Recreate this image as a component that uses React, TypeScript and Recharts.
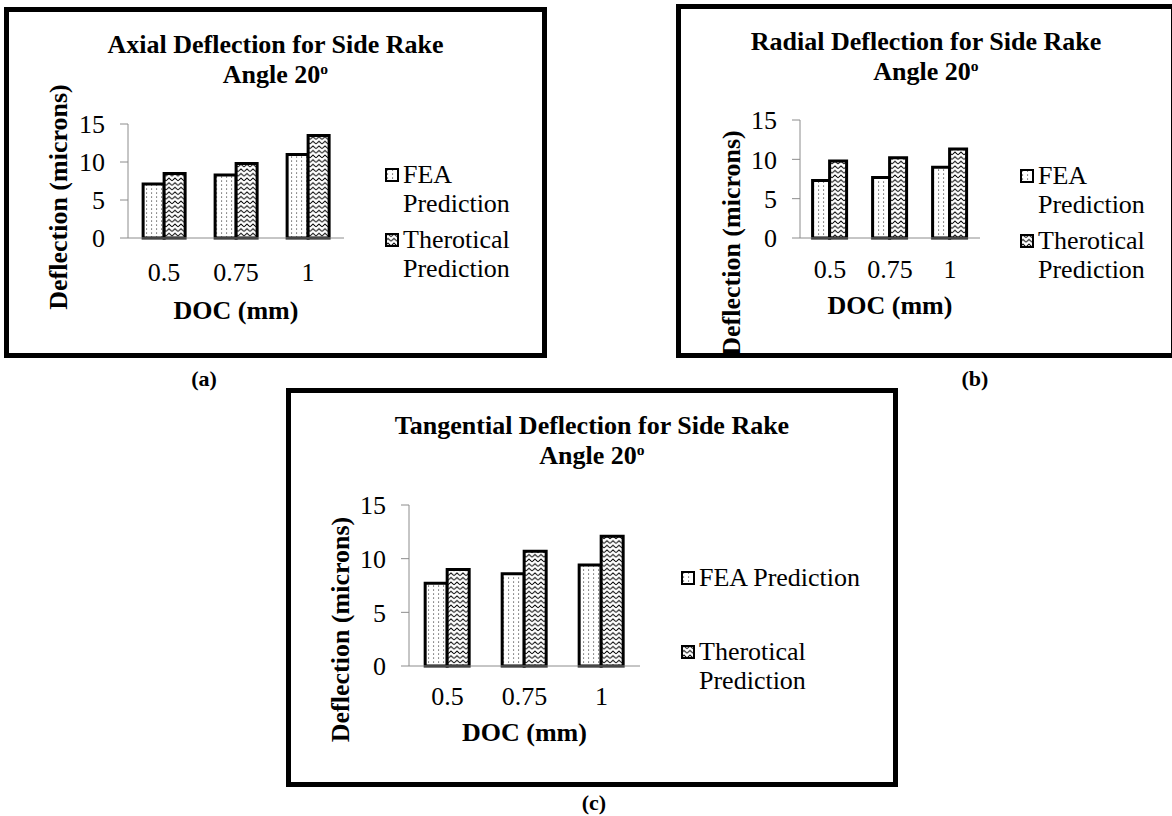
import React from 'react';
import { BarChart, Bar, XAxis, YAxis, Legend } from 'recharts';

// DOC categories shared by the three panels
const docLabels = ['0.5', '0.75', '1'];
const yTicks = [0, 5, 10, 15];

// deflection values (microns)
const axialFea = [7.1, 8.3, 11.0];
const axialTheo = [8.5, 9.8, 13.5];
const radialFea = [7.3, 7.7, 9.0];
const radialTheo = [9.8, 10.2, 11.3];
const tangentialFea = [7.7, 8.6, 9.4];
const tangentialTheo = [9.0, 10.7, 12.1];

const FONT = '"Liberation Serif", "Times New Roman", serif';
const AXIS_GREY = '#8c8c8c';

function PatternLegend({ payload, gap }: any) {
  return (
    <div style={{ fontFamily: FONT, fontSize: 26, lineHeight: '29px', color: '#000' }}>
      {(payload || []).map((entry: any, i: number) => (
        <div key={i} style={{ display: 'flex', alignItems: 'flex-start', marginTop: i ? gap : 0 }}>
          <svg width={14} height={14} style={{ flex: 'none', marginTop: 8, marginRight: 4 }}>
            <rect x={1} y={1} width={12} height={12} fill={entry.color || entry.payload?.fill} stroke="#000" strokeWidth={2} />
          </svg>
          <span>{entry.value}</span>
        </div>
      ))}
    </div>
  );
}

interface PanelProps {
  id: string;
  title: string;
  fea: number[];
  theo: number[];
  frame: { left: number; top: number; width: number; height: number };
  margin: { top: number; right: number; bottom: number; left: number };
  yAxisWidth: number;
  yLabelDx: number;
  yLabelDy: number;
  xAxisHeight: number;
  xTickMargin: number;
  legend: { left: number; top: number; width: number; gap: number };
}

function Panel(p: PanelProps) {
  const data = docLabels.map((doc, i) => ({ doc, fea: p.fea[i], theo: p.theo[i] }));
  const tickStyle = { fill: '#000', fontSize: 26, fontFamily: FONT };
  const labelStyle = { fill: '#000', fontSize: 26, fontFamily: FONT, fontWeight: 'bold' };

  return (
    <div style={{ position: 'absolute', left: p.frame.left, top: p.frame.top, width: p.frame.width, height: p.frame.height, overflow: 'hidden', background: '#fff' }}>
      <div style={{ position: 'absolute', left: 0, top: 23, width: '100%', textAlign: 'center', fontFamily: FONT, fontWeight: 'bold', fontSize: 26, lineHeight: '30px', color: '#000' }}>
        {p.title}
        <br />
        Angle 20<sup style={{ fontSize: '60%', verticalAlign: 'top', lineHeight: '18px' }}>o</sup>
      </div>
      <BarChart width={p.frame.width} height={p.frame.height} data={data} margin={p.margin} barCategoryGap="21%" barGap={0}>
        <defs>
          <pattern id={`dots-${p.id}`} width={5} height={4} patternUnits="userSpaceOnUse">
            <rect width={5} height={4} fill="#fff" />
            <rect x={2} y={1.5} width={1.1} height={1.1} fill="#444" />
          </pattern>
          <pattern id={`zig-${p.id}`} width={6} height={4.6} patternUnits="userSpaceOnUse">
            <rect width={6} height={4.6} fill="#fff" />
            <path d="M0,3.6 L3,1 L6,3.6" fill="none" stroke="#000" strokeWidth={1} />
          </pattern>
        </defs>
        <XAxis
          dataKey="doc"
          height={p.xAxisHeight}
          tickLine={false}
          tickSize={0}
          tickMargin={p.xTickMargin}
          axisLine={{ stroke: AXIS_GREY }}
          tick={tickStyle}
          interval={0}
          label={{ value: 'DOC (mm)', position: 'insideBottom', offset: 0, ...labelStyle }}
        />
        <YAxis
          domain={[0, 15]}
          ticks={yTicks}
          width={p.yAxisWidth}
          tickSize={8}
          tickMargin={15}
          axisLine={{ stroke: AXIS_GREY }}
          tickLine={{ stroke: AXIS_GREY }}
          tick={tickStyle}
          label={{ value: 'Deflection (microns)', angle: -90, position: 'center', dx: p.yLabelDx, dy: p.yLabelDy, ...labelStyle }}
        />
        <Legend
          layout="vertical"
          align="center"
          verticalAlign="middle"
          wrapperStyle={{ left: p.legend.left, top: p.legend.top, width: p.legend.width }}
          content={(props: any) => <PatternLegend {...props} gap={p.legend.gap} />}
        />
        <Bar dataKey="fea" name="FEA Prediction" fill={`url(#dots-${p.id})`} stroke="#000" strokeWidth={3} isAnimationActive={false} />
        <Bar dataKey="theo" name="Therotical Prediction" fill={`url(#zig-${p.id})`} stroke="#000" strokeWidth={3} isAnimationActive={false} />
      </BarChart>
      <div style={{ position: 'absolute', inset: 0, border: '5px solid #000', boxSizing: 'border-box', pointerEvents: 'none' }} />
    </div>
  );
}

const captionStyle: React.CSSProperties = {
  position: 'absolute',
  width: 60,
  textAlign: 'center',
  fontFamily: FONT,
  fontWeight: 'bold',
  fontSize: 22,
  lineHeight: '26px',
  color: '#000',
};

export default function App() {
  return (
    <div style={{ position: 'absolute', left: 0, top: 0, width: 1172, height: 816, overflow: 'hidden', background: '#fff' }}>
      <Panel
        id="a"
        title="Axial Deflection for Side Rake"
        fea={axialFea}
        theo={axialTheo}
        frame={{ left: 4, top: 7, width: 543, height: 351 }}
        margin={{ top: 117, right: 203, bottom: 39, left: 0 }}
        yAxisWidth={124}
        yLabelDx={-8}
        yLabelDy={16}
        xAxisHeight={81}
        xTickMargin={25}
        legend={{ left: 381, top: 153, width: 125, gap: 7 }}
      />
      <Panel
        id="b"
        title="Radial Deflection for Side Rake"
        fea={radialFea}
        theo={radialTheo}
        frame={{ left: 676, top: 4, width: 500, height: 354 }}
        margin={{ top: 116, right: 196, bottom: 44, left: 0 }}
        yAxisWidth={124}
        yLabelDx={-7}
        yLabelDy={64}
        xAxisHeight={76}
        xTickMargin={22}
        legend={{ left: 344, top: 157, width: 125, gap: 7 }}
      />
      <Panel
        id="c"
        title="Tangential Deflection for Side Rake"
        fea={tangentialFea}
        theo={tangentialTheo}
        frame={{ left: 286, top: 388, width: 612, height: 399 }}
        margin={{ top: 117, right: 258, bottom: 46, left: 0 }}
        yAxisWidth={123}
        yLabelDx={-8}
        yLabelDy={44}
        xAxisHeight={75}
        xTickMargin={21}
        legend={{ left: 395, top: 175, width: 200, gap: 45 }}
      />
      <div style={{ ...captionStyle, left: 174, top: 366 }}>(a)</div>
      <div style={{ ...captionStyle, left: 945, top: 366 }}>(b)</div>
      <div style={{ ...captionStyle, left: 564, top: 790 }}>(c)</div>
    </div>
  );
}
